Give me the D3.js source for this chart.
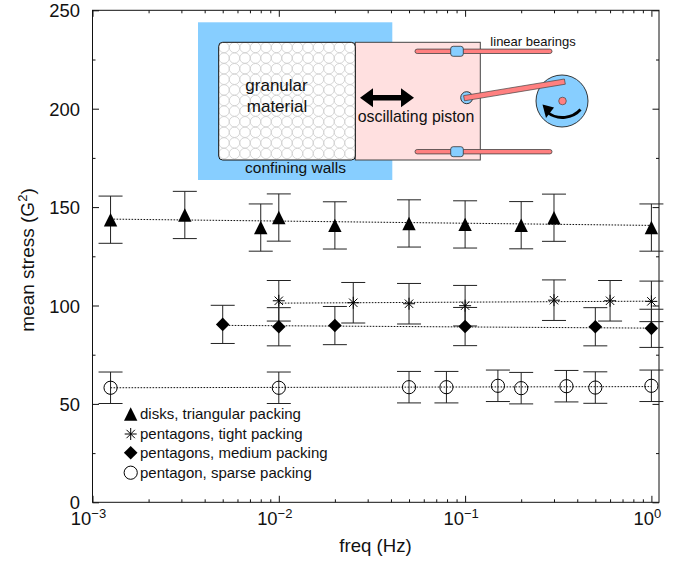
<!DOCTYPE html>
<html>
<head>
<meta charset="utf-8">
<script src="https://cdn.jsdelivr.net/npm/d3@7"></script>
<style>
  html, body { margin: 0; padding: 0; background: #fff; }
  svg { display: block; }
  text { font-family: "Liberation Sans", Arial, sans-serif; fill: #111; }
</style>
</head>
<body>
<svg id="chart" xmlns="http://www.w3.org/2000/svg" width="695" height="561"></svg>
<script>
// values: [freq, mean stress, error]
var disks = [[0.00125,143.6,12],[0.00313,146,12],[0.008,139.6,12],[0.01,144.7,12],[0.02,140.7,12],
  [0.05,141.7,12],[0.1,141.2,12],[0.2,140.8,12],[0.3,144.6,12],[1,139.6,12]];
var tight = [[0.01,102.4,10.3],[0.0251,101.4,10.3],[0.05,100.9,10.3],[0.1,99.9,10.3],
  [0.3,102.7,10.3],[0.6,102.4,10.3],[1,102.1,10.3]];
var medium = [[0.005,90.4,9.7],[0.01,89.2,9.7],[0.02,89.8,9.7],[0.1,89.3,9.7],[0.5,89.2,9.7],[1,88.4,9.7]];
var sparse = [[0.00125,58.2,8],[0.01,58.2,8],[0.05,58.5,8],[0.0794,58.5,8],[0.15,59.2,8],
  [0.2,58,8],[0.35,59,8],[0.5,58.3,8],[1,59.2,8]];

// dotted fit lines, two ends each
var disksFit = [[0.00125,143.9],[1,140.7]];
var tightFit = [[0.01,101.2],[1,102.2]];
var mediumFit = [[0.005,89.9],[1,88.5]];
var sparseFit = [[0.00125,58.2],[1,58.8]];

var xMajor = [0.001, 0.01, 0.1, 1];
var xExponents = ["\u22123", "\u22122", "\u22121", "0"];
var yMajor = [0, 50, 100, 150, 200, 250];
var yMinor = [25, 75, 125, 175, 225];
var legendLabels = ["disks, triangular packing", "pentagons, tight packing",
  "pentagons, medium packing", "pentagon, sparse packing"];

var left = 92.5, right = 659, top_ = 10.3, bottom = 502.3;
var svg = d3.select("#chart");

var x = d3.scaleLog().domain([0.001, 1.0985]).range([left, right]);
var y = d3.scaleLinear().domain([0, 250]).range([bottom, top_]);

var xMinor = [];
xMajor.slice(0, 3).forEach(function(m) {
  d3.range(2, 10).forEach(function(k) { xMinor.push(m * k); });
});

// inset sketch goes under the data
var inset = svg.append("g").attr("class", "inset");
inset.append("rect").attr("x", 198).attr("y", 22.3).attr("width", 194.3).attr("height", 157.7).attr("fill", "#87CEFF");
inset.append("rect").attr("x", 355.3).attr("y", 42.3).attr("width", 125).attr("height", 117.7)
  .attr("fill", "#FFE0E0").attr("stroke", "#444").attr("stroke-width", 1);
inset.append("rect").attr("x", 218.7).attr("y", 42.3).attr("width", 136.6).attr("height", 117.7).attr("rx", 4)
  .attr("fill", "#fff");
var grains = [];
d3.range(13).forEach(function(i) {
  d3.range(11).forEach(function(j) { grains.push([224 + i * 10.5, 47.5 + j * 10.6]); });
});
inset.selectAll("circle.grain").data(grains).enter().append("circle").attr("class", "grain")
  .attr("cx", function(d) { return d[0]; }).attr("cy", function(d) { return d[1]; }).attr("r", 5.2)
  .attr("fill", "none").attr("stroke", "#cdcdcd").attr("stroke-width", 0.8);
inset.append("rect").attr("x", 218.7).attr("y", 42.3).attr("width", 136.6).attr("height", 117.7).attr("rx", 4)
  .attr("fill", "none").attr("stroke", "#111").attr("stroke-width", 1);

[51.3, 151.7].forEach(function(ry) {
  inset.append("rect").attr("x", 415).attr("y", ry - 2.2).attr("width", 137).attr("height", 4.4).attr("rx", 2.2)
    .attr("fill", "#FF8080").attr("stroke", "#444").attr("stroke-width", 0.8);
  inset.append("rect").attr("x", 450.7).attr("y", ry - 5).attr("width", 12.6).attr("height", 10).attr("rx", 2.5)
    .attr("fill", "#87CEFF").attr("stroke", "#333").attr("stroke-width", 0.8);
});
inset.append("circle").attr("cx", 466.7).attr("cy", 97.7).attr("r", 6).attr("fill", "#87CEFF").attr("stroke", "#222").attr("stroke-width", 0.9);
inset.append("circle").attr("cx", 562).attr("cy", 101).attr("r", 26).attr("fill", "#87CEFF").attr("stroke", "#222").attr("stroke-width", 0.9);
inset.append("circle").attr("cx", 562.5).attr("cy", 101).attr("r", 3.8).attr("fill", "#FF8080").attr("stroke", "#444").attr("stroke-width", 0.7);
inset.append("path").attr("d", "M463.6,95.6L564.4,79L565.3,84.2L464.5,100.8Z")
  .attr("fill", "#FF8080").attr("stroke", "#444").attr("stroke-width", 0.7);
// piston double arrow
inset.append("path").attr("d", "M360,97.8L373,88.3L373,95L401,95L401,88.3L414,97.8L401,107.3L401,100.6L373,100.6L373,107.3Z").attr("fill", "#000");
// rotation arrow
inset.append("path").attr("d", "M580.5,109.5C573,118 558,121 547,112").attr("fill", "none").attr("stroke", "#000").attr("stroke-width", 2.8);
inset.append("path").attr("d", "M542.5,104.5L554,107.5L546,118Z").attr("fill", "#000");

function insetText(s, tx, ty, size, anchor) {
  inset.append("text").attr("x", tx).attr("y", ty).attr("text-anchor", anchor || "middle")
    .attr("font-size", size).text(s);
}
insetText("granular", 276.5, 91, 17);
insetText("material", 277, 112, 17);
insetText("oscillating piston", 416, 121.5, 15.9);
insetText("confining walls", 295.5, 173, 15.5);
insetText("linear bearings", 533, 46, 13);

// frame and ticks
svg.append("rect").attr("x", left).attr("y", top_).attr("width", right - left).attr("height", bottom - top_)
  .attr("fill", "none").attr("stroke", "#111").attr("stroke-width", 1);

function ticks(axisFn, g, vals, scale, size) {
  var a = axisFn(scale).tickValues(vals).tickSize(size).tickFormat("");
  var sel = svg.append("g").attr("transform", g).call(a);
  sel.select(".domain").remove();
  sel.selectAll("line").attr("stroke", "#111").attr("stroke-width", 1);
  return sel;
}
ticks(d3.axisTop, "translate(0," + bottom + ")", xMajor, x, 6.5);
ticks(d3.axisTop, "translate(0," + bottom + ")", xMinor, x, 3);
ticks(d3.axisBottom, "translate(0," + top_ + ")", xMajor, x, 6.5);
ticks(d3.axisBottom, "translate(0," + top_ + ")", xMinor, x, 3);
ticks(d3.axisRight, "translate(" + left + ",0)", yMajor, y, 6.5);
ticks(d3.axisRight, "translate(" + left + ",0)", yMinor, y, 3);
ticks(d3.axisLeft, "translate(" + right + ",0)", yMajor, y, 6.5);
ticks(d3.axisLeft, "translate(" + right + ",0)", yMinor, y, 3);

// tick labels
svg.selectAll("text.ylab").data(yMajor).enter().append("text").attr("class", "ylab")
  .attr("x", 80).attr("y", function(d) { return y(d) + 7; })
  .attr("text-anchor", "end").attr("font-size", 18.4)
  .text(function(d) { return d; });

var xlab = svg.selectAll("text.xlab").data(xMajor).enter().append("text").attr("class", "xlab")
  .attr("x", function(d) { return x(d) - 4; }).attr("y", 525)
  .attr("text-anchor", "middle").attr("font-size", 18.4);
xlab.append("tspan").text("10");
xlab.append("tspan").attr("dy", -7).attr("font-size", 13)
  .text(function(d, i) { return xExponents[i]; });

svg.append("text").attr("x", 375.5).attr("y", 552).attr("text-anchor", "middle").attr("font-size", 18.6).text("freq (Hz)");
var yTitle = svg.append("text").attr("transform", "translate(34,260) rotate(-90)")
  .attr("text-anchor", "middle").attr("font-size", 19);
yTitle.append("tspan").text("mean stress (G");
yTitle.append("tspan").attr("dy", -7).attr("font-size", 13).text("2");
yTitle.append("tspan").attr("dy", 7).text(")");

// fits
var line = d3.line().x(function(d) { return x(d[0]); }).y(function(d) { return y(d[1]); });
[disksFit, tightFit, mediumFit, sparseFit].forEach(function(fit) {
  svg.append("path").attr("d", line(fit)).attr("fill", "none").attr("stroke", "#111")
    .attr("stroke-width", 1).attr("stroke-dasharray", "1.6,1.4");
});

// marker shapes centred on 0,0
var triangle = "M0,-6.7L6.7,6.7L-6.7,6.7Z";
var diamond = "M0,-6.8L6.8,0L0,6.8L-6.8,0Z";
function star(r) {
  return "M" + -r + ",0L" + r + ",0M" + (-0.7 * r) + "," + (-0.7 * r) + "L" + (0.7 * r) + "," + (0.7 * r)
    + "M" + (-0.7 * r) + "," + (0.7 * r) + "L" + (0.7 * r) + "," + (-0.7 * r)
    + "M0," + -r + "L0," + r;
}
function drawMarker(sel, kind) {
  if (kind === "triangle") sel.append("path").attr("d", triangle).attr("fill", "#000");
  if (kind === "diamond") sel.append("path").attr("d", diamond).attr("fill", "#000");
  if (kind === "star") sel.append("path").attr("d", star(6)).attr("fill", "none").attr("stroke", "#000").attr("stroke-width", 1);
  if (kind === "circle") sel.append("circle").attr("r", 6.6).attr("fill", "none").attr("stroke", "#000").attr("stroke-width", 1);
}

function drawSeries(data, kind) {
  var g = svg.append("g").selectAll("g").data(data).enter().append("g");
  g.append("path").attr("d", function(d) {
    var px = x(d[0]), y0 = y(d[1] - d[2]), y1 = y(d[1] + d[2]);
    return "M" + px + "," + y0 + "L" + px + "," + y1
      + "M" + (px - 12) + "," + y0 + "L" + (px + 12) + "," + y0
      + "M" + (px - 12) + "," + y1 + "L" + (px + 12) + "," + y1;
  }).attr("fill", "none").attr("stroke", "#222").attr("stroke-width", 1);
  var m = g.append("g").attr("transform", function(d) { return "translate(" + x(d[0]) + "," + y(d[1]) + ")"; });
  drawMarker(m, kind);
}
drawSeries(disks, "triangle");
drawSeries(tight, "star");
drawSeries(medium, "diamond");
drawSeries(sparse, "circle");

// legend
var legendKinds = ["triangle", "star", "diamond", "circle"];
var legendY = [414, 434, 452.7, 472.7];
legendLabels.forEach(function(label, i) {
  var g = svg.append("g").attr("transform", "translate(130.7," + legendY[i] + ")");
  drawMarker(g, legendKinds[i]);
  svg.append("text").attr("x", 140).attr("y", legendY[i] + 5.3).attr("font-size", 15).text(label);
});
</script>
</body>
</html>
